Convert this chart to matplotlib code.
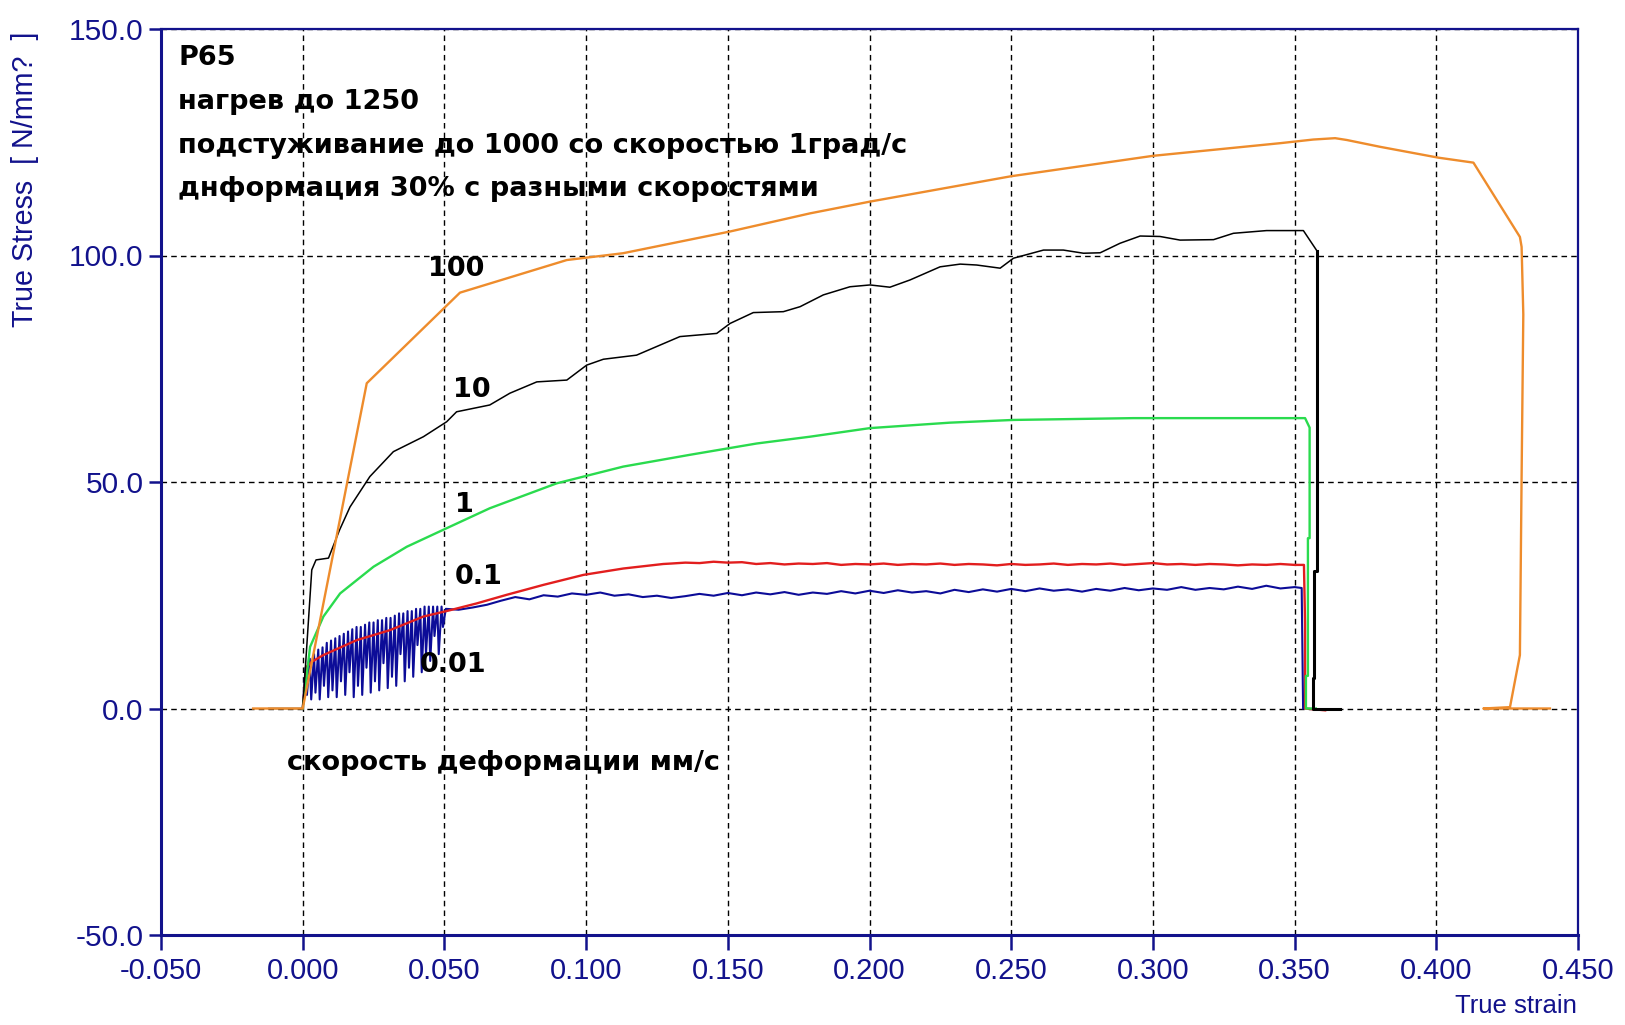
import matplotlib
matplotlib.use("Agg")
import matplotlib.pyplot as plt
import matplotlib.ticker as mticker

# --- fonts: Arial-like sans with Cyrillic ---
plt.rcParams['font.family'] = ['Liberation Sans', 'DejaVu Sans']
BOLD_FAMILY = ['DejaVu Sans']   # wider bold face, closer to the rig's screen font

# --- colours ---
NAVY = '#12128C'
C_100 = '#EE8C2C'
C_10 = '#000000'
C_1 = '#2ADB4E'
C_01 = '#E21E1E'
C_001 = '#0C0C98'

# --- header / labels ---
HEADER_LINES = [
    'P65',
    'нагрев до 1250',
    'подстуживание до 1000 со скоростью 1град/с',
    'днформация 30% с разными скоростями',
]
HEADER_Y = [143.6, 133.8, 124.2, 114.6]
RATE_CAPTION = 'скорость деформации мм/с'
RATE_LABELS = ['100', '10', '1', '0.1', '0.01']
RATE_LABEL_X = [0.0541, 0.0596, 0.0569, 0.0621, 0.053]
RATE_LABEL_Y = [97.0, 70.4, 45.0, 29.0, 9.5]

X_TICKS = [-0.05, 0.0, 0.05, 0.10, 0.15, 0.20, 0.25, 0.30, 0.35, 0.40, 0.45]
Y_TICKS = [-50.0, 0.0, 50.0, 100.0, 150.0]

# --- 100 mm/s (orange) ---
v100_x = [-0.0175, 0.0, 0.0226, 0.0555, 0.0932, 0.113, 0.1508, 0.179, 0.2002,
          0.25, 0.30, 0.345, 0.3566, 0.3643, 0.3684, 0.3801, 0.4007, 0.4131,
          0.4295, 0.4301, 0.4307, 0.4301, 0.4295, 0.426, 0.4166, 0.4401]
v100_y = [0.0, 0.0, 71.8, 91.8, 99.0, 100.5, 105.3, 109.3, 111.9,
          117.5, 122.0, 124.8, 125.6, 125.9, 125.5, 124.0, 121.6, 120.5,
          104.1, 101.9, 87.0, 51.3, 11.8, 0.3, 0.0, 0.0]

# --- 10 mm/s (black) ---
v10_x = [-0.012, 0.0, 0.0032, 0.0047, 0.0091, 0.013, 0.0167, 0.0237, 0.032,
         0.0426, 0.0508, 0.0543, 0.066, 0.0731, 0.0826, 0.0932, 0.1002, 0.1061,
         0.1178, 0.1331, 0.1461, 0.1508, 0.159, 0.1696, 0.1755, 0.1837, 0.1931,
         0.2002, 0.2072, 0.2143, 0.2249, 0.232, 0.2378, 0.2461, 0.2508, 0.2614,
         0.2684, 0.2755, 0.2814, 0.2884, 0.2955, 0.3025, 0.3096, 0.3214, 0.3284,
         0.3401, 0.3531, 0.3578]
v10_y = [0.0, 0.0, 30.6, 32.8, 33.2, 39.4, 44.5, 51.2, 56.7,
         60.0, 63.3, 65.5, 67.0, 69.6, 72.1, 72.5, 75.8, 77.1,
         78.0, 82.1, 82.8, 85.0, 87.4, 87.6, 88.7, 91.3, 93.1,
         93.5, 93.0, 94.6, 97.5, 98.1, 97.9, 97.2, 99.4, 101.2,
         101.2, 100.5, 100.6, 102.7, 104.3, 104.2, 103.4, 103.5, 104.9,
         105.5, 105.5, 101.1]
v10_drop_x = [0.3578, 0.3578, 0.3570, 0.3570, 0.3564, 0.3564, 0.366]
v10_drop_y = [101.1, 30.4, 30.4, 6.8, 6.8, 0.0, 0.0]

# --- 1 mm/s (green) ---
v1_x = [0.0, 0.0026, 0.0073, 0.0132, 0.025, 0.0367, 0.0508, 0.066, 0.0896,
        0.1131, 0.1366, 0.1602, 0.179, 0.2002, 0.2284, 0.2508, 0.2931, 0.3537,
        0.3553, 0.3553, 0.3547, 0.3547, 0.354, 0.354, 0.3575]
v1_y = [0.0, 13.6, 20.3, 25.4, 31.3, 35.7, 39.8, 44.2, 49.7,
        53.4, 56.0, 58.5, 60.0, 61.9, 63.1, 63.7, 64.1, 64.1,
        62.0, 37.6, 37.6, 7.2, 7.2, 0.0, 0.0]

# --- 0.1 mm/s (red) ---
v01_x = [0.0, 0.0014, 0.0032, 0.0073, 0.0191, 0.0308, 0.0426, 0.052, 0.0614,
         0.072, 0.085, 0.0991, 0.1131, 0.1272,
         0.13, 0.135, 0.14, 0.145, 0.15, 0.155, 0.16, 0.165, 0.17, 0.175,
         0.18, 0.185, 0.19, 0.195, 0.20, 0.205, 0.21, 0.215, 0.22, 0.225,
         0.23, 0.235, 0.24, 0.245, 0.25, 0.255, 0.26, 0.265, 0.27, 0.275,
         0.28, 0.285, 0.29, 0.295, 0.30, 0.305, 0.31, 0.315, 0.32, 0.325,
         0.33, 0.335, 0.34, 0.345, 0.35, 0.3533, 0.3537, 0.3537, 0.3608]
v01_y = [0.0, 9.2, 10.3, 11.8, 15.1, 17.3, 20.3, 21.7, 23.2,
         25.1, 27.3, 29.5, 30.9, 31.9,
         32.0, 32.2, 32.1, 32.4, 32.2, 32.3, 31.9, 32.1, 31.8, 32.0,
         31.9, 32.1, 31.7, 31.9, 31.8, 32.0, 31.7, 31.9, 31.8, 32.0,
         31.7, 31.9, 31.8, 31.6, 31.9, 31.7, 31.8, 32.0, 31.7, 31.9,
         31.8, 32.0, 31.7, 31.9, 32.1, 31.8, 31.9, 31.7, 31.9, 31.8,
         31.6, 31.8, 31.7, 31.9, 31.7, 31.7, 18.6, 0.0, -0.4]

# --- 0.01 mm/s (blue): stick-slip teeth up to ~0.05, then noisy plateau ---
v001_x = [0.0, 0.0010, 0.0015, 0.0025, 0.0030, 0.0040, 0.0045, 0.0055, 0.0060,
          0.0070, 0.0075, 0.0085, 0.0090, 0.0100, 0.0105, 0.0115, 0.0120,
          0.0130, 0.0135, 0.0145, 0.0150, 0.0160, 0.0165, 0.0175, 0.0180,
          0.0190, 0.0195, 0.0205, 0.0210, 0.0220, 0.0225, 0.0235, 0.0240,
          0.0250, 0.0255, 0.0265, 0.0270, 0.0280, 0.0285, 0.0295, 0.0300,
          0.0310, 0.0315, 0.0325, 0.0330, 0.0340, 0.0345, 0.0355, 0.0360,
          0.0370, 0.0375, 0.0385, 0.0390, 0.0400, 0.0405, 0.0415, 0.0420,
          0.0430, 0.0435, 0.0445, 0.0450, 0.0460, 0.0465, 0.0475, 0.0480,
          0.0490, 0.0495, 0.0505,
          0.055, 0.060, 0.065, 0.070, 0.075, 0.080, 0.085, 0.090, 0.095,
          0.100, 0.105, 0.110, 0.115, 0.120, 0.125, 0.130, 0.135, 0.140,
          0.145, 0.150, 0.155, 0.160, 0.165, 0.170, 0.175, 0.180, 0.185,
          0.190, 0.195, 0.200, 0.205, 0.210, 0.215, 0.220, 0.225, 0.230,
          0.235, 0.240, 0.245, 0.250, 0.255, 0.260, 0.265, 0.270, 0.275,
          0.280, 0.285, 0.290, 0.295, 0.300, 0.305, 0.310, 0.315, 0.320,
          0.325, 0.330, 0.335, 0.340, 0.345, 0.350, 0.3525, 0.353]
v001_y = [0.0, 9.0, 3.0, 11.0, 2.0, 12.0, 3.5, 13.0, 2.0,
          13.5, 5.0, 14.5, 2.5, 15.0, 4.0, 15.5, 2.5,
          16.0, 6.0, 16.5, 3.0, 17.0, 8.0, 17.5, 2.5,
          18.0, 5.0, 18.0, 3.0, 18.5, 9.0, 19.0, 3.5,
          19.0, 6.0, 19.5, 4.0, 19.5, 10.0, 20.0, 4.5,
          20.0, 7.0, 20.5, 5.0, 21.0, 12.0, 21.0, 6.0,
          21.5, 9.0, 21.5, 7.0, 22.0, 14.0, 22.0, 8.0,
          22.5, 12.0, 22.5, 10.5, 22.5, 16.0, 22.5, 12.0,
          22.5, 18.0, 22.0,
          21.8, 22.3, 22.9, 23.8, 24.6, 24.1, 25.0, 24.7, 25.4,
          25.1, 25.6, 24.9, 25.2, 24.6, 24.9, 24.4, 24.8, 25.3,
          24.9, 25.5, 25.0, 25.6, 25.2, 25.7, 25.1, 25.6, 25.3,
          25.9, 25.4, 26.0, 25.5, 26.1, 25.6, 25.9, 25.4, 26.2,
          25.7, 26.3, 25.8, 26.4, 25.9, 26.5, 26.0, 26.3, 25.8,
          26.4, 26.0, 26.6, 26.1, 26.5, 26.2, 26.8, 26.2, 26.6,
          26.3, 26.9, 26.4, 27.1, 26.5, 26.8, 26.6, 0.0]


def draw_chart():
    fig = plt.figure(figsize=(16.25, 10.25), dpi=100)
    ax = fig.add_axes([161 / 1625, 90 / 1025, 1417 / 1625, 906 / 1025])

    # curves, lowest rate at the back
    ax.plot(v001_x, v001_y, color=C_001, linewidth=1.5, zorder=2)
    ax.plot(v01_x, v01_y, color=C_01, linewidth=1.7, zorder=3)
    ax.plot(v1_x, v1_y, color=C_1, linewidth=1.7, zorder=4)
    ax.plot(v10_x, v10_y, color=C_10, linewidth=1.1, zorder=5)
    ax.plot(v10_drop_x, v10_drop_y, color=C_10, linewidth=2.2, zorder=5)
    ax.plot(v100_x, v100_y, color=C_100, linewidth=1.7, zorder=6)

    ax.set_xlim(-0.05, 0.45)
    ax.set_ylim(-50, 150)
    ax.set_xticks(X_TICKS)
    ax.set_yticks(Y_TICKS)
    ax.xaxis.set_major_formatter(mticker.FormatStrFormatter('%.3f'))
    ax.yaxis.set_major_formatter(mticker.FormatStrFormatter('%.1f'))

    ax.grid(True, color='black', linestyle=(0, (4, 3)), linewidth=1.0, zorder=1)
    ax.set_axisbelow(True)

    for side in ['left', 'bottom']:
        ax.spines[side].set_color(NAVY)
        ax.spines[side].set_linewidth(2.2)
    for side in ['top', 'right']:
        ax.spines[side].set_color(NAVY)
        ax.spines[side].set_linewidth(1.6)

    ax.tick_params(axis='y', direction='out', length=8.5, width=1.8, color=NAVY,
                   labelcolor=NAVY, labelsize=21.5, pad=4)
    ax.tick_params(axis='x', direction='out', length=10.5, width=1.8, color=NAVY,
                   labelcolor=NAVY, labelsize=21, pad=5)

    # header block, top-left
    for line, yy in zip(HEADER_LINES, HEADER_Y):
        ax.text(-0.044, yy, line, fontsize=19.5, fontweight='bold', color='black',
                family=BOLD_FAMILY, ha='left', va='center', zorder=7)

    for lab, lx, ly in zip(RATE_LABELS, RATE_LABEL_X, RATE_LABEL_Y):
        ax.text(lx, ly, lab, fontsize=19.5, fontweight='bold', color='black',
                family=BOLD_FAMILY, ha='center', va='center', zorder=7)
    ax.text(0.0709, -12.0, RATE_CAPTION, fontsize=19.5, fontweight='bold',
            family=BOLD_FAMILY, color='black', ha='center', va='center', zorder=7)

    # axis titles sit in the corners, like the test-rig software does it
    fig.text(25 / 1625, 1 - 32 / 1025, 'True Stress  [ N/mm?  ]', rotation=90,
             color=NAVY, fontsize=20.6, ha='center', va='top')
    fig.text(1577 / 1625, 1 - 1006 / 1025, 'True strain', color=NAVY,
             fontsize=18.5, ha='right', va='center')

    fig.savefig('out.png', dpi=100, facecolor='white')


if __name__ == '__main__':
    draw_chart()
